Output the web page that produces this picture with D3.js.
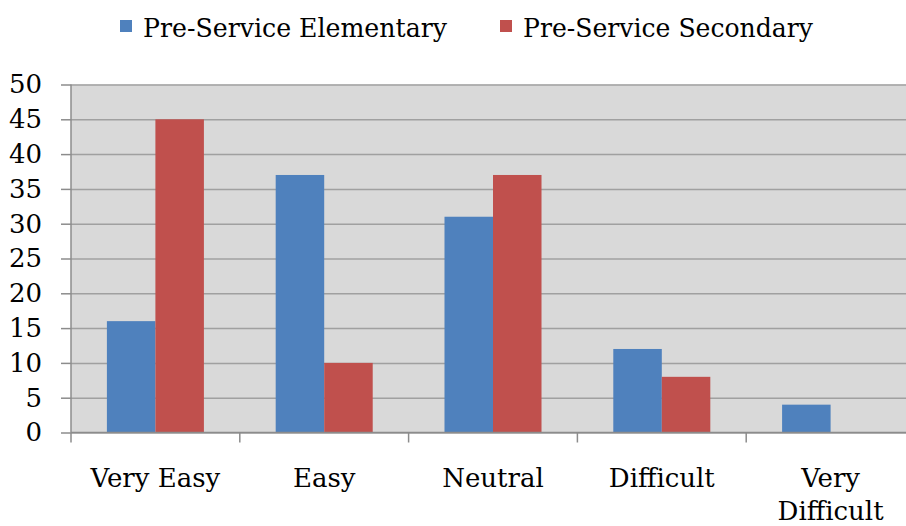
<!DOCTYPE html>
<html>
<head>
<meta charset="utf-8">
<script src="https://cdn.jsdelivr.net/npm/d3@7"></script>
<style>
  body { margin: 0; background: #fff; }
  svg { display: block; }
</style>
</head>
<body>
<svg id="chart"></svg>
<script>
var categories = ['Very Easy', 'Easy', 'Neutral', 'Difficult', 'Very Difficult']
var seriesNames = ['Pre-Service Elementary', 'Pre-Service Secondary']
var elementary = [16, 37, 31, 12, 4]
var secondary = [45, 10, 37, 8, 0]
var yTicks = [0, 5, 10, 15, 20, 25, 30, 35, 40, 45, 50]
var colors = ['#4f81bd', '#c0504d']

var W = 906, H = 526
var plot = {left: 71, top: 84.5, right: 915, bottom: 432.5}
var FONT = "'DejaVu Serif', 'Liberation Serif', 'Times New Roman', serif"

var svg = d3.select('#chart').attr('width', W).attr('height', H)

var x = d3.scaleBand().domain(categories).range([plot.left, plot.right])
var xInner = d3.scaleBand().domain(seriesNames).range([0, x.bandwidth()]).paddingOuter(0.74).paddingInner(0)
var y = d3.scaleLinear().domain([0, 50]).range([plot.bottom, plot.top])

// plot background
svg.append('rect')
  .attr('x', plot.left).attr('y', plot.top)
  .attr('width', plot.right - plot.left).attr('height', plot.bottom - plot.top)
  .attr('fill', '#d9d9d9')

// gridlines
svg.append('g')
  .attr('transform', `translate(${plot.left},0)`)
  .call(d3.axisLeft(y).tickValues(yTicks).tickSize(-(plot.right - plot.left)).tickFormat(''))
  .call(g => g.select('.domain').remove())
  .selectAll('line').attr('stroke', '#a0a0a0').attr('stroke-width', 1.5)

// bars
var data = categories.map((c, i) => ({cat: c, vals: [elementary[i], secondary[i]]}))
var groups = svg.append('g').selectAll('g')
  .data(data)
  .join('g')
  .attr('transform', d => `translate(${x(d.cat)},0)`)

groups.selectAll('rect')
  .data(d => d.vals.map((v, j) => ({name: seriesNames[j], v: v, j: j})))
  .join('rect')
  .attr('x', d => xInner(d.name))
  .attr('width', xInner.bandwidth())
  .attr('y', d => y(d.v))
  .attr('height', d => y(0) - y(d.v))
  .attr('fill', d => colors[d.j])

// y axis
var yAxis = svg.append('g')
  .attr('transform', `translate(${plot.left},0)`)
  .call(d3.axisLeft(y).tickValues(yTicks).tickSize(10).tickPadding(19))
yAxis.attr('font-family', null)
yAxis.select('.domain').attr('stroke', '#8c8c8c').attr('stroke-width', 1.5).attr('d', `M0,${plot.top}V${plot.bottom}`)
yAxis.selectAll('line').attr('stroke', '#8c8c8c').attr('stroke-width', 1.5)
yAxis.selectAll('text')
  .style('font-family', FONT)
  .style('font-size', '26px').attr('fill', '#000')

// x axis
var bounds = categories.map(c => x(c)).concat([plot.right])
var xAxis = svg.append('g')
xAxis.append('line')
  .attr('x1', plot.left).attr('x2', plot.right)
  .attr('y1', plot.bottom).attr('y2', plot.bottom)
  .attr('stroke', '#8c8c8c').attr('stroke-width', 1.5)
xAxis.selectAll('.xtick')
  .data(bounds)
  .join('line')
  .attr('class', 'xtick')
  .attr('x1', d => d).attr('x2', d => d)
  .attr('y1', plot.bottom).attr('y2', plot.bottom + 10)
  .attr('stroke', '#8c8c8c').attr('stroke-width', 1.5)

xAxis.selectAll('.xlabel')
  .data(categories)
  .join('text')
  .attr('class', 'xlabel')
  .attr('x', d => x(d) + x.bandwidth() / 2)
  .attr('y', 487)
  .attr('text-anchor', 'middle')
  .style('font-family', FONT)
  .style('font-size', '26px')
  .each(function(d) {
    var words = d === 'Very Difficult' ? ['Very', 'Difficult'] : [d]
    var t = d3.select(this)
    words.forEach((w, i) => {
      t.append('tspan')
        .attr('x', x(d) + x.bandwidth() / 2)
        .attr('dy', i === 0 ? 0 : 33)
        .text(w)
    })
  })

// legend
var legendX = [120, 500]
var legendW = [304, 290]
var legend = svg.append('g').selectAll('g')
  .data(seriesNames)
  .join('g')
  .attr('transform', (d, i) => `translate(${legendX[i]},0)`)
legend.append('rect')
  .attr('x', 0).attr('y', 20).attr('width', 12).attr('height', 12)
  .attr('fill', (d, i) => colors[i])
legend.append('text')
  .attr('x', 23).attr('y', 37)
  .attr('textLength', (d, i) => legendW[i])
  .attr('lengthAdjust', 'spacingAndGlyphs')
  .style('font-family', FONT)
  .style('font-size', '26px')
  .text(d => d)
</script>
</body>
</html>
